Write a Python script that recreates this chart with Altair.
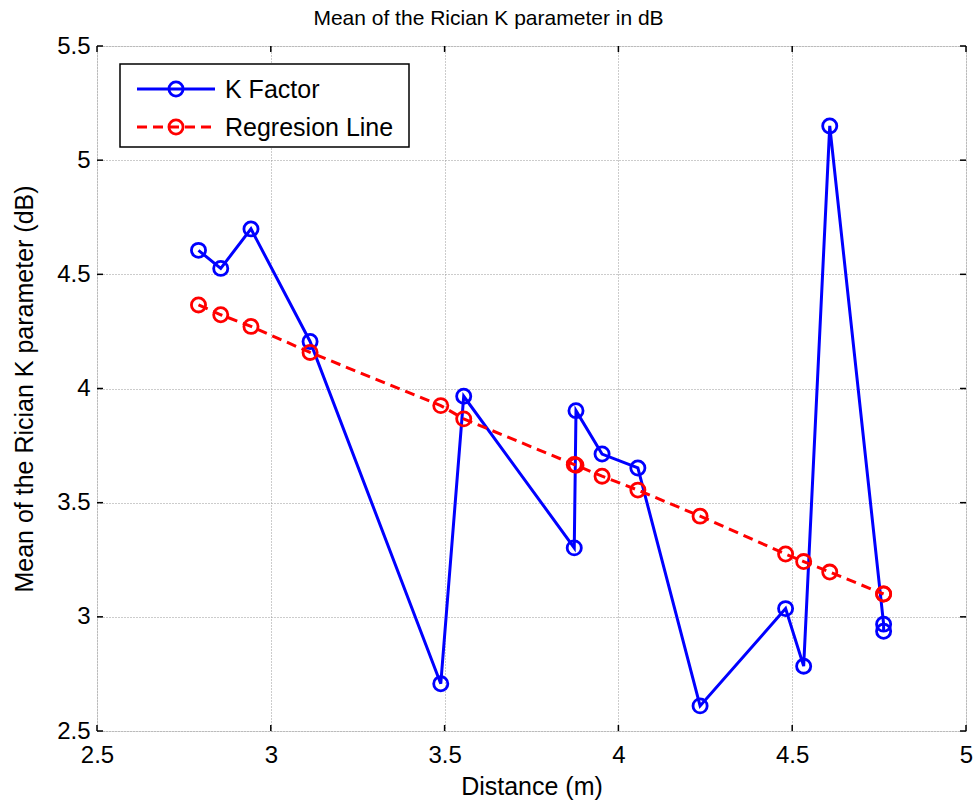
import altair as alt
import pandas as pd

# Data
distance = [2.792, 2.856, 2.943, 3.113, 3.489, 3.555, 3.873, 3.878, 3.953, 4.056,
            4.235, 4.481, 4.533, 4.608, 4.763, 4.763]
k_factor = [4.605, 4.526, 4.699, 4.206, 2.707, 3.966, 3.302, 3.903, 3.713, 3.652,
            2.610, 3.036, 2.784, 5.150, 2.968, 2.937]
regression = [4.366, 4.323, 4.272, 4.158, 3.925, 3.867, 3.667, 3.664, 3.616, 3.555,
              3.441, 3.275, 3.242, 3.196, 3.100, 3.100]

x_ticks = [2.5, 3, 3.5, 4, 4.5, 5]
y_ticks = [2.5, 3, 3.5, 4, 4.5, 5, 5.5]

legend_labels = ["K Factor", "Regresion Line"]
legend_colors = ["#0000FF", "#FF0000"]

W, H = 869, 685
FONT = "Liberation Sans"
LBL = 24

df = pd.DataFrame({"d": distance, "k": k_factor, "r": regression, "i": range(len(distance))})
xt = pd.DataFrame({"v": x_ticks})
yt = pd.DataFrame({"v": y_ticks})

xs = alt.Scale(domain=[2.5, 5], nice=False, zero=False)
ys = alt.Scale(domain=[2.5, 5.5], nice=False, zero=False)

x_axis = alt.Axis(values=x_ticks, title="Distance (m)", grid=True, ticks=False, domain=False,
                  labelFontSize=LBL, labelFont=FONT, labelColor="#000", labelPadding=12,
                  titleFontSize=25, titleFont=FONT, titleFontWeight="normal", titleColor="#000",
                  titlePadding=7, gridColor="#999", gridDash=[1, 2], gridWidth=1, labelFlush=False,
                  format="~g")
y_axis = alt.Axis(values=y_ticks, title="Mean of the Rician K parameter (dB)", grid=True, ticks=False,
                  domain=False, labelFontSize=LBL, labelFont=FONT, labelColor="#000", labelPadding=7,
                  titleFontSize=25, titleFont=FONT, titleFontWeight="normal", titleColor="#000",
                  titlePadding=19, gridColor="#999", gridDash=[1, 2], gridWidth=1, labelFlush=False,
                  format="~g")

base = alt.Chart(df)

k_line = base.mark_line(color="#0000FF", strokeWidth=3).encode(
    x=alt.X("d:Q", scale=xs, axis=x_axis), y=alt.Y("k:Q", scale=ys, axis=y_axis), order="i:Q")
k_pts = base.mark_point(shape="circle", filled=False, color="#0000FF", size=200, strokeWidth=2.8, opacity=1).encode(
    x=alt.X("d:Q", scale=xs), y=alt.Y("k:Q", scale=ys))
r_line = base.mark_line(color="#FF0000", strokeWidth=3, strokeDash=[10, 6]).encode(
    x=alt.X("d:Q", scale=xs), y=alt.Y("r:Q", scale=ys), order="i:Q")
r_pts = base.mark_point(shape="circle", filled=False, color="#FF0000", size=200, strokeWidth=2.8, opacity=1).encode(
    x=alt.X("d:Q", scale=xs), y=alt.Y("r:Q", scale=ys))

# inward ticks (MATLAB style)
tl = 6
xb = alt.Chart(xt).mark_rule(color="#000", strokeWidth=1.5).encode(
    x=alt.X("v:Q", scale=xs), y=alt.value(H), y2=alt.value(H - tl))
xtp = alt.Chart(xt).mark_rule(color="#000", strokeWidth=1.5).encode(
    x=alt.X("v:Q", scale=xs), y=alt.value(0), y2=alt.value(tl))
yl = alt.Chart(yt).mark_rule(color="#000", strokeWidth=1.5).encode(
    y=alt.Y("v:Q", scale=ys), x=alt.value(0), x2=alt.value(tl))
yr = alt.Chart(yt).mark_rule(color="#000", strokeWidth=1.5).encode(
    y=alt.Y("v:Q", scale=ys), x=alt.value(W), x2=alt.value(W - tl))

# manual legend
lg = pd.DataFrame({"lab": legend_labels, "col": legend_colors, "j": [0, 1]})
box = alt.Chart(lg.head(1)).mark_rect(fill="white", stroke="#000", strokeWidth=1.5).encode(
    x=alt.value(23), x2=alt.value(312), y=alt.value(18), y2=alt.value(101))
leg_k_line = alt.Chart(lg.head(1)).mark_rule(color="#0000FF", strokeWidth=3).encode(
    x=alt.value(40), x2=alt.value(118), y=alt.value(43))
leg_r_line = alt.Chart(lg.tail(1)).mark_rule(color="#FF0000", strokeWidth=3, strokeDash=[10, 6]).encode(
    x=alt.value(40), x2=alt.value(118), y=alt.value(81))
leg_k_pt = alt.Chart(lg.head(1)).mark_point(shape="circle", filled=False, color="#0000FF", size=200, strokeWidth=2.8, opacity=1).encode(
    x=alt.value(79), y=alt.value(43))
leg_r_pt = alt.Chart(lg.tail(1)).mark_point(shape="circle", filled=False, color="#FF0000", size=200, strokeWidth=2.8, opacity=1).encode(
    x=alt.value(79), y=alt.value(81))
leg_k_txt = alt.Chart(lg.head(1)).mark_text(align="left", baseline="middle", fontSize=25, font=FONT, color="#000").encode(
    x=alt.value(128), y=alt.value(44), text="lab:N")
leg_r_txt = alt.Chart(lg.tail(1)).mark_text(align="left", baseline="middle", fontSize=25, font=FONT, color="#000").encode(
    x=alt.value(128), y=alt.value(82), text="lab:N")

chart = alt.layer(
    k_line, r_line, k_pts, r_pts, xb, xtp, yl, yr,
    box, leg_k_line, leg_r_line, leg_k_pt, leg_r_pt, leg_k_txt, leg_r_txt
).properties(
    width=W, height=H,
    title=alt.TitleParams("Mean of the Rician K parameter in dB", fontSize=21, font=FONT,
                          fontWeight="normal", color="#000", offset=5, anchor="middle", dx=-43),
    autosize=alt.AutoSizeParams(type="none"),
    padding={"left": 97, "top": 46, "right": 975 - 97 - W, "bottom": 802 - 46 - H},
).configure_view(stroke="#000", strokeWidth=1.5).configure(background="white")

chart.save("out.html", embed_options={"renderer": "svg", "actions": False})
